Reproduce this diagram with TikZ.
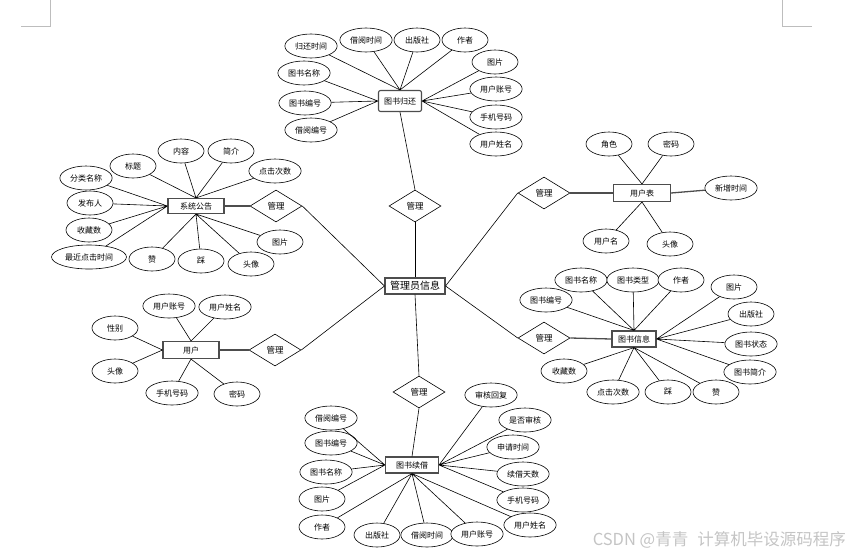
\documentclass[tikz,border=0pt]{standalone}
\usepackage{fontspec}
\usepackage{tikz}
\usetikzlibrary{shapes.geometric,positioning}
\newfontfamily\cjk{Noto Sans CJK SC}
\definecolor{EdgeGray}{HTML}{4D4D4D}
\definecolor{MarkGray}{HTML}{BDBDBD}
\definecolor{WaterGray}{HTML}{C4C4C4}

\begin{document}
\begin{tikzpicture}[x=1pt, y=-1pt,
    entity/.style={draw=EdgeGray, line width=1.1pt, fill=white, font=\cjk\fontsize{8}{9}\selectfont, minimum height=16pt, inner xsep=5pt, inner ysep=2pt},
    attr/.style={ellipse, draw, line width=0.6pt, fill=white, font=\cjk\fontsize{8}{9}\selectfont, minimum width=46pt, minimum height=24pt, inner xsep=2.5pt, inner ysep=0pt},
    rel/.style={diamond, draw, line width=0.6pt, fill=white, font=\cjk\fontsize{8.5}{9}\selectfont, minimum width=52pt, minimum height=32pt, inner sep=0pt},
    link/.style={line width=0.6pt},
    bond/.style={draw=EdgeGray, line width=1.3pt}
  ]
    \useasboundingbox (0,0) rectangle (850,555);

    % page corner marks
    \draw[MarkGray, line width=0.8pt] (21,26) -- (50,26) -- (50,0);
    \draw[MarkGray, line width=0.8pt] (782,0) -- (782,26) -- (812,26);

    % centre entity and relations
    \node[entity, minimum width=57pt, font=\cjk\fontsize{10}{12}\selectfont] (admin) at (415,286) {管理员信息};
    \node[rel] (mTop) at (415,206) {管理};
    \node[rel] (mNotice) at (276,206) {管理};
    \node[rel] (mUser) at (275,350) {管理};
    \node[rel] (mRenew) at (419,392) {管理};
    \node[rel] (mAcct) at (544,193) {管理};
    \node[rel] (mBook) at (544,338) {管理};

    % entities
    \node[entity, rounded corners=2pt, minimum width=43pt, minimum height=21pt, inner xsep=3pt] (ret) at (400,101) {图书归还};
    \node[entity, minimum width=56pt, minimum height=15pt] (notice) at (196,206) {系统公告};
    \node[entity, minimum width=57pt, minimum height=17pt] (acct) at (642,193) {用户表};
    \node[entity, minimum width=44pt, inner xsep=3pt] (book) at (634,339) {图书信息};
    \node[entity, minimum width=56pt, minimum height=17pt] (user) at (191,350) {用户};
    \node[entity, minimum width=53pt] (renew) at (412,465) {图书续借};

    % 图书归还 attributes
    \node[attr] (rt1) at (311,46) {归还时间};
    \node[attr] (rt2) at (366,40) {借阅时间};
    \node[attr] (rt3) at (417,40) {出版社};
    \node[attr] (rt4) at (465,40) {作者};
    \node[attr] (rt5) at (495,62) {图片};
    \node[attr] (rt6) at (496,89) {用户账号};
    \node[attr] (rt7) at (496,117) {手机号码};
    \node[attr] (rt8) at (496,144) {用户姓名};
    \node[attr] (rt9) at (304,73) {图书名称};
    \node[attr] (rt10) at (305,103) {图书编号};
    \node[attr] (rt11) at (311,130) {借阅编号};

    % 系统公告 attributes
    \node[attr] (nt1) at (133,166) {标题};
    \node[attr] (nt2) at (181,151) {内容};
    \node[attr] (nt3) at (231,151) {简介};
    \node[attr] (nt4) at (275,171) {点击次数};
    \node[attr] (nt5) at (86,178) {分类名称};
    \node[attr] (nt6) at (90,203) {发布人};
    \node[attr] (nt7) at (89,230) {收藏数};
    \node[attr] (nt8) at (89,257) {最近点击时间};
    \node[attr] (nt9) at (152,259) {赞};
    \node[attr] (nt10) at (201,261) {踩};
    \node[attr] (nt11) at (251,264) {头像};
    \node[attr] (nt12) at (280,242) {图片};

    % 用户表 attributes
    \node[attr] (ac1) at (609,144) {角色};
    \node[attr] (ac2) at (671,144) {密码};
    \node[attr] (ac3) at (731,188) {新增时间};
    \node[attr] (ac4) at (606,241) {用户名};
    \node[attr] (ac5) at (670,244) {头像};

    % 图书信息 attributes
    \node[attr] (bk1) at (546,300) {图书编号};
    \node[attr] (bk2) at (581,280) {图书名称};
    \node[attr] (bk3) at (633,280) {图书类型};
    \node[attr] (bk4) at (681,280) {作者};
    \node[attr] (bk5) at (734,287) {图片};
    \node[attr] (bk6) at (751,314) {出版社};
    \node[attr] (bk7) at (751,344) {图书状态};
    \node[attr] (bk8) at (750,372) {图书简介};
    \node[attr] (bk9) at (564,371) {收藏数};
    \node[attr] (bk10) at (613,392) {点击次数};
    \node[attr] (bk11) at (668,392) {踩};
    \node[attr] (bk12) at (716,392) {赞};

    % 用户 attributes
    \node[attr] (us1) at (169,306) {用户账号};
    \node[attr] (us2) at (225,307) {用户姓名};
    \node[attr] (us3) at (115,328) {性别};
    \node[attr] (us4) at (115,371) {头像};
    \node[attr] (us5) at (172,393) {手机号码};
    \node[attr] (us6) at (237,394) {密码};

    % 图书续借 attributes
    \node[attr] (rn1) at (331,418) {借阅编号};
    \node[attr] (rn2) at (331,443) {图书编号};
    \node[attr] (rn3) at (326,472) {图书名称};
    \node[attr] (rn4) at (322,499) {图片};
    \node[attr] (rn5) at (322,527) {作者};
    \node[attr] (rn6) at (377,535) {出版社};
    \node[attr] (rn7) at (427,535) {借阅时间};
    \node[attr] (rn8) at (477,534) {用户账号};
    \node[attr] (rn9) at (530,525) {用户姓名};
    \node[attr] (rn10) at (491,395) {审核回复};
    \node[attr] (rn11) at (525,420) {是否审核};
    \node[attr] (rn12) at (513,447) {申请时间};
    \node[attr] (rn13) at (523,474) {续借天数};
    \node[attr] (rn14) at (523,500) {手机号码};

    % relation links
    \draw[link] (ret.south) -- (mTop.north);
    \draw[link] (mTop.south) -- (admin.north);
    \draw[link] (mNotice.east) -- (admin.west);
    \draw[link] (mUser.east) -- (admin.west);
    \draw[link] (mRenew.north) -- (admin.south);
    \draw[link] (mRenew.south) -- (renew.north);
    \draw[link] (mAcct.west) -- (admin.east);
    \draw[link] (mBook.west) -- (admin.east);
    \draw[bond] (notice.east) -- (mNotice.west);
    \draw[bond] (mAcct.east) -- (acct.west);
    \draw[bond] (mBook.east) -- (book.west);
    \draw[bond] (user.east) -- (mUser.west);
    \draw[bond] (acct.east) -- (ac3);

    % attribute links
    \draw[link] (ret.north) -- (rt1) (ret.north) -- (rt2) (ret.north) -- (rt3) (ret.north) -- (rt4);
    \draw[link] (ret.east) -- (rt5) (ret.east) -- (rt6) (ret.east) -- (rt7) (ret.east) -- (rt8);
    \draw[link] (ret.west) -- (rt9) (ret.west) -- (rt10) (ret.west) -- (rt11);

    \draw[link] (notice.north) -- (nt1) (notice.north) -- (nt2) (notice.north) -- (nt3) (notice.north) -- (nt4);
    \draw[link] (notice.west) -- (nt5) (notice.west) -- (nt6) (notice.west) -- (nt7) (notice.west) -- (nt8);
    \draw[link] (notice.south) -- (nt9) (notice.south) -- (nt10) (notice.south) -- (nt11) (notice.south) -- (nt12);

    \draw[link] (acct.north) -- (ac1) (acct.north) -- (ac2);
    \draw[link] (acct.south) -- (ac4) (acct.south) -- (ac5);

    \draw[link] (book.north) -- (bk1) (book.north) -- (bk2) (book.north) -- (bk3) (book.north) -- (bk4);
    \draw[link] (book.east) -- (bk5) (book.east) -- (bk6) (book.east) -- (bk7) (book.east) -- (bk8);
    \draw[link] (book.south) -- (bk9) (book.south) -- (bk10) (book.south) -- (bk11) (book.south) -- (bk12);

    \draw[link] (user.north) -- (us1) (user.north) -- (us2);
    \draw[link] (user.west) -- (us3) (user.west) -- (us4);
    \draw[link] (user.south) -- (us5) (user.south) -- (us6);

    \draw[link] (renew.west) -- (rn1) (renew.west) -- (rn2) (renew.west) -- (rn3) (renew.west) -- (rn4);
    \draw[link] (renew.south) -- (rn5) (renew.south) -- (rn6) (renew.south) -- (rn7) (renew.south) -- (rn8) (renew.south) -- (rn9);
    \draw[link] (renew.east) -- (rn10) (renew.east) -- (rn11) (renew.east) -- (rn12) (renew.east) -- (rn13) (renew.east) -- (rn14);

    % watermark
    \node[anchor=east, inner sep=0pt, text=WaterGray, font=\cjk\fontsize{16.5}{19}\selectfont] (mark) at (846,540) {CSDN @青青\hspace{9pt}计算机毕设源码程序};
\end{tikzpicture}
\end{document}
